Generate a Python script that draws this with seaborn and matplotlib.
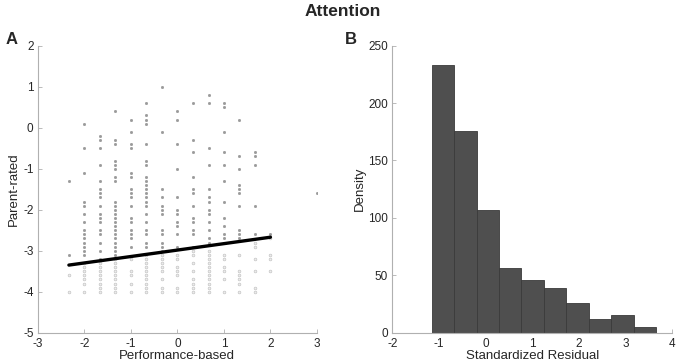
import numpy as np
import pandas as pd
import seaborn as sns
import matplotlib.pyplot as plt

# Panel A: parent-rated vs performance-based scores, one list of y values per x column
perf_levels = [-2.33, -2.0, -1.67, -1.33, -1.0, -0.67, -0.33, 0.0, 0.33, 0.67, 1.0, 1.33, 1.67, 2.0, 3.0]
parent_by_level = [
    [-1.3, -3.1, -3.6, -4.0],
    [0.1, -0.5, -1.1, -1.8, -1.9, -2.1, -2.3, -2.5, -2.6, -2.7, -2.8, -2.9, -3.0, -3.1,
     -3.3, -3.4, -3.5, -3.6, -3.7, -3.8, -4.0],
    [-0.2, -0.3, -0.5, -0.9, -1.3, -1.5, -1.6, -1.7, -1.9, -2.1, -2.2, -2.3, -2.5, -2.6, -2.8, -3.0,
     -3.2, -3.3, -3.4, -3.5, -3.6, -3.7, -3.8, -3.9, -4.0],
    [0.4, -0.3, -0.4, -0.8, -0.9, -1.0, -1.2, -1.3, -1.8, -1.9, -2.0, -2.1, -2.2, -2.3, -2.4, -2.5,
     -2.6, -2.7, -2.8, -2.9, -3.0, -3.1, -3.2, -3.3, -3.4, -3.5, -3.6, -3.7, -3.8, -3.9, -4.0],
    [0.2, -0.1, -0.4, -0.5, -1.1, -1.2, -1.5, -1.6, -1.7, -1.9, -2.2, -2.3, -2.5, -2.6, -2.7, -2.9,
     -3.2, -3.5, -3.6, -3.8, -4.0],
    [0.6, 0.3, 0.2, 0.1, -0.4, -0.8, -0.9, -1.2, -1.3, -1.4, -1.5, -1.6, -1.7, -1.8, -1.9, -2.1,
     -2.3, -2.5, -2.6, -2.8, -2.9, -3.1, -3.2, -3.3, -3.4, -3.5, -3.6, -3.7, -3.8, -3.9, -4.0],
    [1.0, -0.1, -1.5, -1.7, -1.9, -2.0, -2.1, -2.5, -2.6, -2.8, -2.9, -3.0,
     -3.1, -3.2, -3.3, -3.4, -3.5, -3.7, -3.9, -4.0],
    [0.4, 0.2, -0.4, -1.0, -1.7, -2.0, -2.1, -2.3, -2.4, -2.6, -2.9,
     -3.1, -3.2, -3.4, -3.5, -3.6, -3.9, -4.0],
    [0.6, -0.3, -0.6, -1.2, -1.5, -1.6, -1.9, -2.2, -2.3, -2.5, -2.6, -2.9,
     -3.0, -3.1, -3.3, -3.5, -3.7, -3.8, -3.9, -4.0],
    [0.8, 0.6, -0.5, -0.9, -1.5, -1.7, -1.8, -2.0, -2.1, -2.3, -2.5, -2.7, -2.8,
     -3.0, -3.1, -3.2, -3.3, -3.4, -3.5, -3.6, -3.7, -3.8, -3.9, -4.0],
    [0.6, 0.5, -0.1, -0.6, -0.9, -1.3, -1.8, -2.2, -2.4, -2.6, -2.7,
     -3.1, -3.2, -3.4, -3.5, -3.7, -4.0],
    [0.2, -0.7, -1.0, -1.4, -1.5, -1.6, -1.9, -2.5, -2.6, -2.7,
     -3.1, -3.5, -3.6, -3.7, -3.8, -4.0],
    [-0.6, -0.7, -0.9, -1.9, -2.6, -2.8, -2.9, -3.2, -3.5, -3.9, -4.0],
    [-2.6, -2.7, -3.1, -3.2, -3.5],
    [-1.6],
]

# fitted line (intercept, slope) and its x range
fit_intercept = -2.985
fit_slope = 0.157
fit_x = [-2.33, 2.0]

# Panel B: histogram of standardized residuals
bin_edges = [-1.157, -0.676, -0.195, 0.286, 0.767, 1.248, 1.729, 2.210, 2.691, 3.172, 3.653]
bin_heights = [233, 176, 107, 56, 46, 39, 26, 12, 15, 5]

rows = []
for xv, ys in zip(perf_levels, parent_by_level):
    for yv in ys:
        rows.append((xv, yv))
scatter_df = pd.DataFrame(rows, columns=['perf', 'parent'])
scatter_df['side'] = np.where(scatter_df['parent'] > fit_intercept + fit_slope * scatter_df['perf'],
                              'above', 'below')

fit_df = pd.DataFrame({'perf': fit_x})
fit_df['parent'] = fit_intercept + fit_slope * fit_df['perf']

centers = [(a + b) / 2 for a, b in zip(bin_edges[:-1], bin_edges[1:])]
hist_df = pd.DataFrame({'resid': centers, 'count': bin_heights})

sns.set_theme(style='ticks')
plt.rcParams['font.family'] = ['Liberation Sans', 'DejaVu Sans']
plt.rcParams['axes.unicode_minus'] = False

fig = plt.figure(figsize=(6.85, 3.63), dpi=100)
axA = fig.add_axes([37.7 / 685, 1 - 332.7 / 363, 279.3 / 685, 287 / 363])
axB = fig.add_axes([392.3 / 685, 1 - 332.7 / 363, 280 / 685, 287 / 363])

sns.scatterplot(data=scatter_df[scatter_df.side == 'above'], x='perf', y='parent', ax=axA,
                marker='o', s=3, color='#9a9a9a', edgecolor='#808080', linewidth=0.3, zorder=2)
sns.scatterplot(data=scatter_df[scatter_df.side == 'below'], x='perf', y='parent', ax=axA,
                marker='o', s=4, facecolor='#ececec', edgecolor='#bdbdbd', linewidth=0.4, zorder=2)
sns.lineplot(data=fit_df, x='perf', y='parent', ax=axA, color='black', linewidth=2.4, zorder=3)

axA.set_xlim(-3, 3)
axA.set_ylim(-5, 2)
axA.set_xticks(range(-3, 4))
axA.set_yticks(range(-5, 3))
axA.set_xlabel('Performance-based', fontsize=9.5, labelpad=0)
axA.set_ylabel('Parent-rated', fontsize=9.5, labelpad=2)

sns.histplot(data=hist_df, x='resid', weights='count', bins=bin_edges, ax=axB,
             color='#4f4f4f', edgecolor='#3a3a3a', linewidth=0.6, alpha=1)
axB.set_xlim(-2, 4)
axB.set_ylim(0, 250)
axB.set_xticks(range(-2, 5))
axB.set_yticks(range(0, 251, 50))
axB.set_xlabel('Standardized Residual', fontsize=9.5, labelpad=0)
axB.set_ylabel('Density', fontsize=9.5, labelpad=2)

for ax in (axA, axB):
    sns.despine(ax=ax)
    for side in ('left', 'bottom'):
        ax.spines[side].set_color('#b0b0b0')
        ax.spines[side].set_linewidth(0.8)
    ax.tick_params(direction='in', length=3, width=0.6, color='#b0b0b0', labelsize=8.5)
    ax.tick_params(axis='x', pad=3.5)
    ax.tick_params(axis='y', pad=3)

fig.text(0.5, 1 - 12 / 363, 'Attention', ha='center', va='center', fontsize=12.5, fontweight='bold')
fig.text(12 / 685, 1 - 40 / 363, 'A', ha='center', va='center', fontsize=12, fontweight='bold')
fig.text(351 / 685, 1 - 40 / 363, 'B', ha='center', va='center', fontsize=12, fontweight='bold')

fig.savefig('out.png', dpi=100)
